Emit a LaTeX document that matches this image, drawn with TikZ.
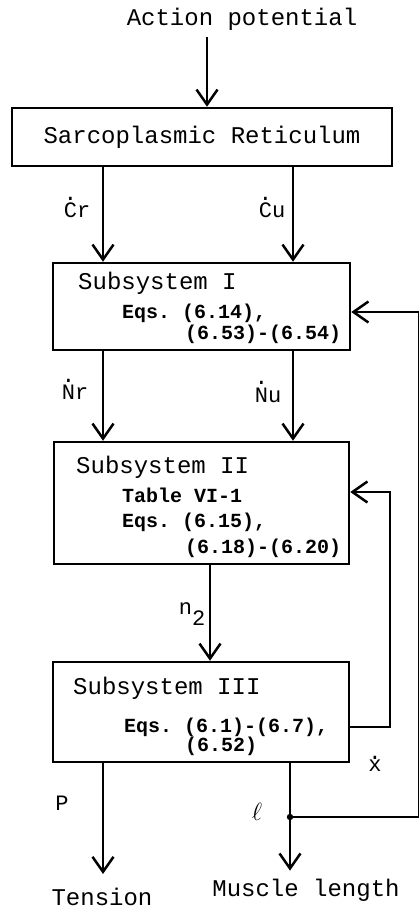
\documentclass[tikz,border=0pt]{standalone}
\usepackage{fontspec}
\setmonofont{Liberation Mono}
\usetikzlibrary{arrows.meta}

% letter with a dot above it (rates)
\newcommand\dotlbl[2][0.78em]{\ooalign{#2\cr\hidewidth\raisebox{#1}{.}\hidewidth\cr}}

\begin{document}
\begin{tikzpicture}[x=1pt, y=-1pt,
  every node/.style={font=\ttfamily\fontsize{24}{28}\selectfont, inner sep=0pt},
  blk/.style={draw, line width=2.5pt},
  eq/.style={anchor=west, font=\ttfamily\bfseries\fontsize{20}{24}\selectfont},
  ttl/.style={anchor=west},
  lbl/.style={font=\ttfamily\fontsize{22}{26}\selectfont},
  line/.style={line width=2.5pt},
  arr/.style={line, -{Straight Barb[length=15pt, width=21pt]}}
]
\useasboundingbox (0,0) rectangle (418,909);

%% ---- input and sarcoplasmic reticulum ----
\node (ap) at (242,19) {Action potential};
\node[blk, minimum width=380pt, minimum height=58pt] (sr) at (202,137)
  {Sarcoplasmic Reticulum};
\coordinate (apin) at (207,37);
\draw[arr] (apin) -- (apin |- sr.north);

\coordinate (colL) at (103,0);
\coordinate (colR) at (293,0);
\coordinate (colM) at (210,0);

%% ---- subsystem I ----
\node[blk, minimum width=297pt, minimum height=87pt] (subI) at (201.5,306.5) {};
\node[ttl] (subIa) at (78,283) {Subsystem I};
\node[eq]  (subIb) at (122,313) {Eqs. (6.14),};
\node[eq]  (subIc) at (185,334) {(6.53)-(6.54)};

\draw[arr] (sr.south -| colL) -- (subI.north -| colL);
\draw[arr] (sr.south -| colR) -- (subI.north -| colR);
\node[lbl] (cr) at (77,210) {\dotlbl{C}r};
\node[lbl] (cu) at (272,210) {\dotlbl{C}u};

%% ---- subsystem II ----
\node[blk, minimum width=295pt, minimum height=122pt] (subII) at (201.5,503) {};
\node[ttl] (subIIa) at (76,467) {Subsystem II};
\node[eq]  (subIIb) at (122,495) {Table VI-1};
\node[eq]  (subIIc) at (122,522) {Eqs. (6.15),};
\node[eq]  (subIId) at (185,548) {(6.18)-(6.20)};

\draw[arr] (subI.south -| colL) -- (subII.north -| colL);
\draw[arr] (subI.south -| colR) -- (subII.north -| colR);
\node[lbl] (nr) at (75,392) {\dotlbl{N}r};
\node[lbl] (nu) at (268,395) {\dotlbl{N}u};

%% ---- subsystem III ----
\node[blk, minimum width=296pt, minimum height=100pt] (subIII) at (201,712) {};
\node[ttl] (subIIIa) at (73,688) {Subsystem III};
\node[eq]  (subIIIb) at (124,727) {Eqs. (6.1)-(6.7),};
\node[eq]  (subIIIc) at (185,746) {(6.52)};

\draw[arr] (subII.south -| colM) -- (subIII.north -| colM);
\node[lbl] (n2) at (192,614) {n\raisebox{-0.5em}{2}};

%% ---- feedback x-dot into subsystem II ----
\coordinate (xout) at (390,727);
\coordinate (xin)  at (390,492);
\draw[arr] (xout -| subIII.east) -- (xout) -- (xin) -- (xin -| subII.east);
\node[lbl] (xd) at (375,766) {\dotlbl[0.58em]{x}};

%% ---- outputs ----
\node (ten) at (102,897) {Tension};
\node (len) at (306,890) {Muscle length};
\coordinate (colLen) at (290,0);
\draw[arr, shorten >=14pt] (subIII.south -| colL) -- (ten.north -| colL);
\draw[arr, shorten >=8pt] (subIII.south -| colLen) -- (len.north -| colLen);
\node[lbl] (p) at (62,803) {P};
\node[lbl, font=\fontsize{24}{28}\selectfont] (ell) at (257,812) {$\ell$};

%% ---- feedback length into subsystem I (runs along the right edge) ----
\coordinate (jn)   at (290,817);
\coordinate (fbLo) at (419.5,817);
\coordinate (fbHi) at (419.5,312);
\fill (jn) circle (3.2pt);
\draw[line] (jn) -- (fbLo) -- (fbHi);
\draw[arr] (fbHi) -- (fbHi -| subI.east);

\end{tikzpicture}
\end{document}
